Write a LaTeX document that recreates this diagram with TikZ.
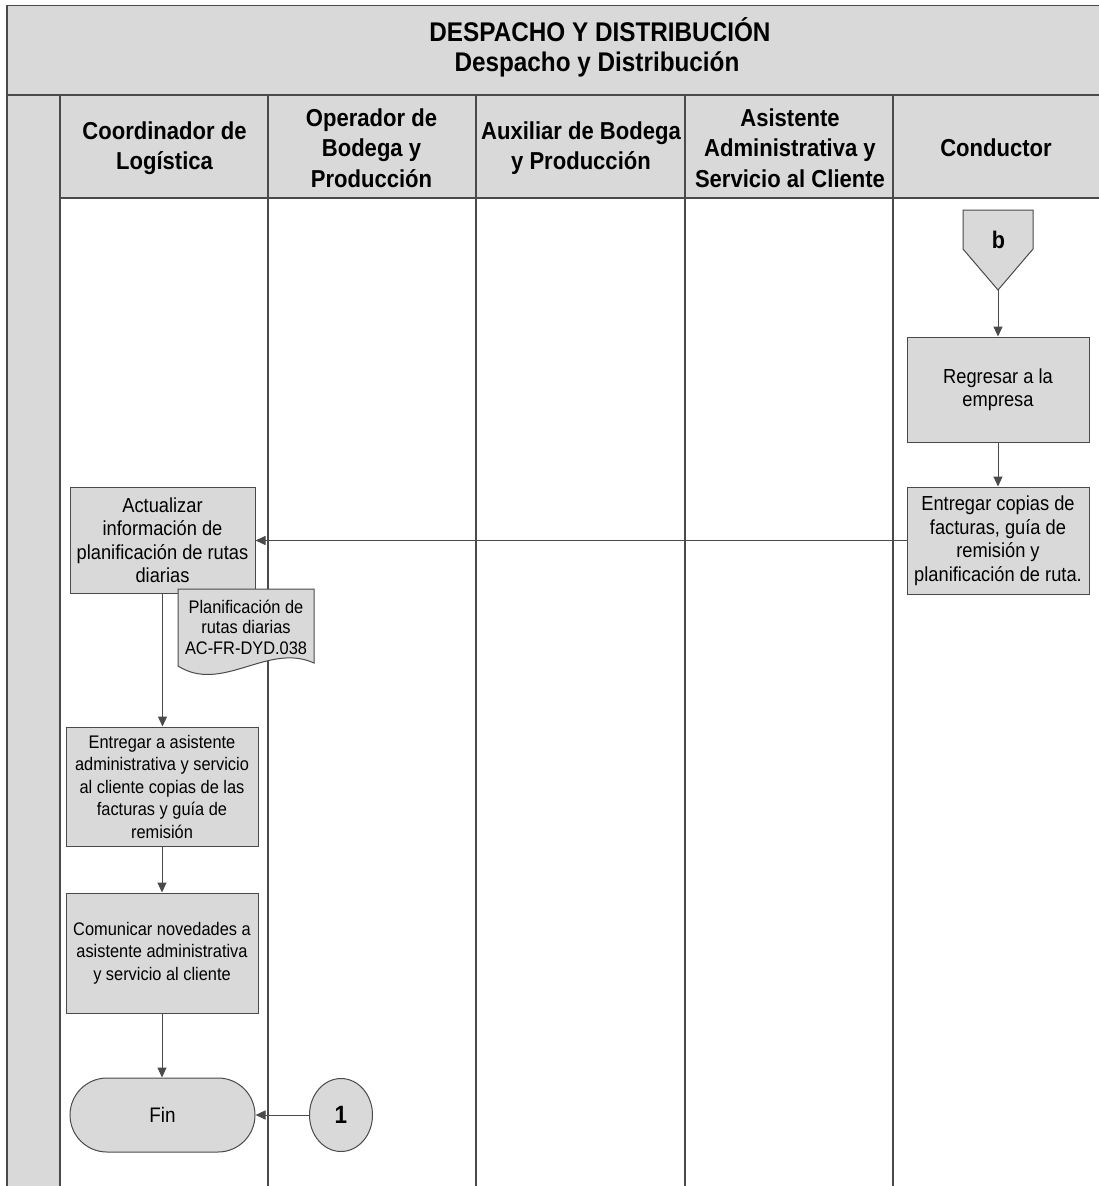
\documentclass[tikz,border=0pt]{standalone}
\usepackage{fontspec}
\setmainfont{Liberation Sans}[FakeStretch=0.9]
\usetikzlibrary{arrows.meta,shapes.geometric}
\definecolor{boxgray}{HTML}{D9D9D9}
\definecolor{edge}{HTML}{4A4A4A}
\begin{document}
\begin{tikzpicture}[x=1pt,y=-1pt,
  lane/.style={draw=edge,line width=1.4pt},
  proc/.style={draw=edge,fill=boxgray,line width=1pt,align=center,inner sep=2pt},
  bigtxt/.style={font=\fontsize{20.3}{23.5}\selectfont},
  smalltxt/.style={font=\fontsize{18.2}{22.5}\selectfont},
  hdr/.style={font=\bfseries\fontsize{24.5}{30.5}\selectfont,align=center},
  ttl/.style={font=\bfseries\fontsize{27}{30}\selectfont,anchor=base},
  flow/.style={draw=edge,line width=1pt,-{Triangle[length=10pt,width=9pt]}}
]
\useasboundingbox (0,0) rectangle (1099,1186);
\fill[white] (0,0) rectangle (1099,1186);
% frame and lanes
\fill[boxgray] (7,5.5) rectangle (1099,198);
\fill[boxgray] (7,198) rectangle (60,1186);
\draw[lane] (1099,5.5) -- (7,5.5) -- (7,1186);
\draw[lane,line width=2.5pt] (7,95) -- (1099,95);
\draw[lane] (60,198) -- (1099,198);
\foreach \x in {60,268,476,685,893} \draw[lane] (\x,95) -- (\x,1186);
% title
\node[ttl] (t1) at (600,41.7) {DESPACHO Y DISTRIBUCIÓN};
\node[ttl] (t2) at (597,71.7) {Despacho y Distribución};
% lane headers
\node[hdr] (h1) at (164.5,148) {Coordinador de\\Logística};
\node[hdr] (h2) at (371.5,148) {Operador de\\Bodega y\\Producción};
\node[hdr] (h3) at (581,148) {Auxiliar de Bodega\\y Producción};
\node[hdr] (h4) at (790,148) {Asistente\\Administrativa y\\Servicio al Cliente};
\node[hdr] (h5) at (996,148) {Conductor};
% off-page connector b
\draw[draw=edge,fill=boxgray,line width=1pt] (963,210) -- (1033,210) -- (1033,249) -- (998,290) -- (963,249) -- cycle;
\node[font=\bfseries\fontsize{24}{24}\selectfont,anchor=base] (b) at (998.5,248) {b};
\coordinate (btip) at (998,290);
% process boxes
\node[proc,bigtxt,minimum width=182pt,minimum height=105pt] (reg) at (998,389.5) {Regresar a la\\empresa};
\node[proc,bigtxt,minimum width=182pt,minimum height=107pt] (ent) at (998,540.5) {Entregar copias de\\facturas, guía de\\remisión y\\planificación de ruta.};
\node[proc,bigtxt,minimum width=185pt,minimum height=106pt] (act) at (162.5,540) {Actualizar\\información de\\planificación de rutas\\diarias};
\node[proc,smalltxt,minimum width=192pt,minimum height=119pt] (asis) at (162,786.5) {Entregar a asistente\\administrativa y servicio\\al cliente copias de las\\facturas y guía de\\remisión};
\node[proc,smalltxt,minimum width=192pt,minimum height=120pt] (com) at (162,953) {Comunicar novedades a\\asistente administrativa\\y servicio al cliente};
\node[proc,font=\fontsize{21}{22}\selectfont,rounded corners=37pt,minimum width=185pt,minimum height=74pt] (fin) at (162.5,1115) {Fin};
\node[draw=edge,fill=boxgray,line width=1pt,ellipse,inner sep=0pt,minimum width=63pt,minimum height=73pt,font=\bfseries\fontsize{25}{25}\selectfont] (one) at (341,1115) {1};
% document
\draw[draw=edge,fill=boxgray,line width=1pt] (178,589) -- (314,589) -- (314,663) .. controls (268,642) and (222,694) .. (178,666) -- cycle;
\node[align=center,font=\fontsize{18.2}{20.5}\selectfont] (doc) at (246,627) {Planificación de\\rutas diarias\\AC-FR-DYD.038};
% connectors
\draw[flow] (btip) -- (reg.north);
\draw[flow] (reg.south) -- (ent.north);
\draw[flow] (ent.west) -- (ent.west -| act.east);
\draw[flow] (act.south) -- (act.south |- asis.north);
\draw[flow] (asis.south) -- (com.north);
\draw[flow] (com.south) -- (com.south |- fin.north);
\draw[flow] (one.west) -- (one.west -| fin.east);
\end{tikzpicture}
\end{document}
